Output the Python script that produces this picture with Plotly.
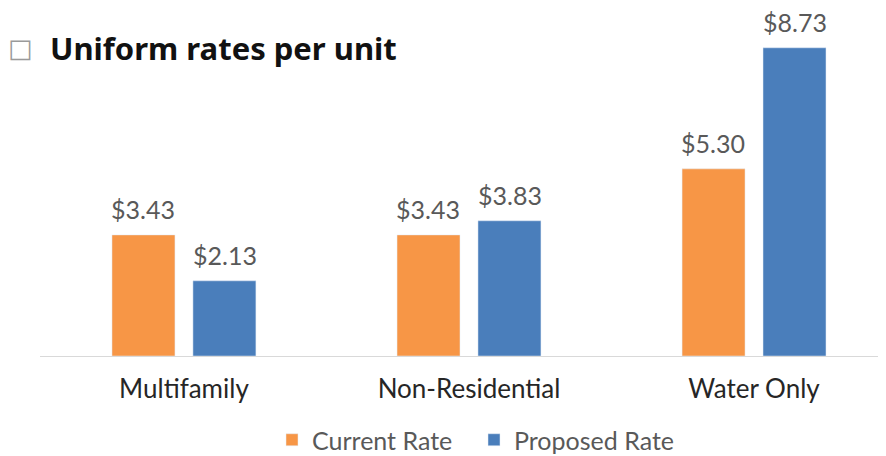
import plotly.graph_objects as go

# ── data ────────────────────────────────────────────────────────────
categories = ["Multifamily", "Non-Residential", "Water Only"]
current_rate = [3.43, 3.43, 5.30]
proposed_rate = [2.13, 3.83, 8.73]
series_names = ["Current Rate", "Proposed Rate"]

ORANGE = "#F79646"
BLUE = "#4A7EBB"
LABEL_GREY = "#595959"
FONT = "Lato, 'Open Sans', sans-serif"

# plot area in figure pixels (page body adds 8px offset)
L, T, R, B = 32, 32, 8, 108
PW, PH = 886 - L - R, 456 - T - B


def paper(px, py):
    return (px - L) / PW, (456 - B - py) / PH


fig = go.Figure()
series = [(series_names[0], current_rate, ORANGE, -41),
          (series_names[1], proposed_rate, BLUE, 41)]
labels = []
for name, vals, col, dx in series:
    fig.add_trace(go.Bar(name=name, x=categories, y=vals, marker_color=col))
    # value labels sit a little higher than plotly's "outside" text
    for cat, v in zip(categories, vals):
        labels.append(dict(
            x=cat, y=v, xref="x", yref="y", xshift=dx, yshift=9,
            yanchor="bottom", showarrow=False, text=f"${v:.2f}",
            font=dict(size=25, color=LABEL_GREY, family=FONT),
        ))

bx, by = paper(12, 40)
tx, ty = paper(40, 40)
lx, ly = paper(466, 432)

fig.update_layout(
    width=886, height=456,
    paper_bgcolor="white",
    plot_bgcolor="white",
    barmode="group",
    bargap=0.432,
    bargroupgap=0.222,
    margin=dict(l=L, r=R, t=T, b=B, autoexpand=False),
    font=dict(family=FONT),
    showlegend=True,
    xaxis=dict(
        range=[-0.505, 2.463],
        showline=True, linecolor="#D9D9D9", linewidth=1,
        ticks="", tickfont=dict(size=26, color="#262626", family=FONT),
        ticklabelstandoff=10,
        showgrid=False,
    ),
    yaxis=dict(range=[0, 8.95], visible=False, showgrid=False),
    legend=dict(
        orientation="h", x=lx, xanchor="center", y=ly, yanchor="middle",
        font=dict(size=25, color=LABEL_GREY, family=FONT),
        itemwidth=30,
        entrywidth=157, entrywidthmode="pixels",
    ),
    annotations=labels + [
        dict(text="□", x=bx, y=by, xref="paper", yref="paper",
             xanchor="center", yanchor="middle", showarrow=False,
             font=dict(size=26, color="#9A9A9A", family="DejaVu Sans")),
        dict(text="<b>Uniform rates per unit</b>", x=tx, y=ty,
             xref="paper", yref="paper", xanchor="left", yanchor="middle",
             showarrow=False,
             font=dict(size=31, color="#111111", family="'Noto Sans', sans-serif")),
    ],
)

fig.write_html("out.html")
